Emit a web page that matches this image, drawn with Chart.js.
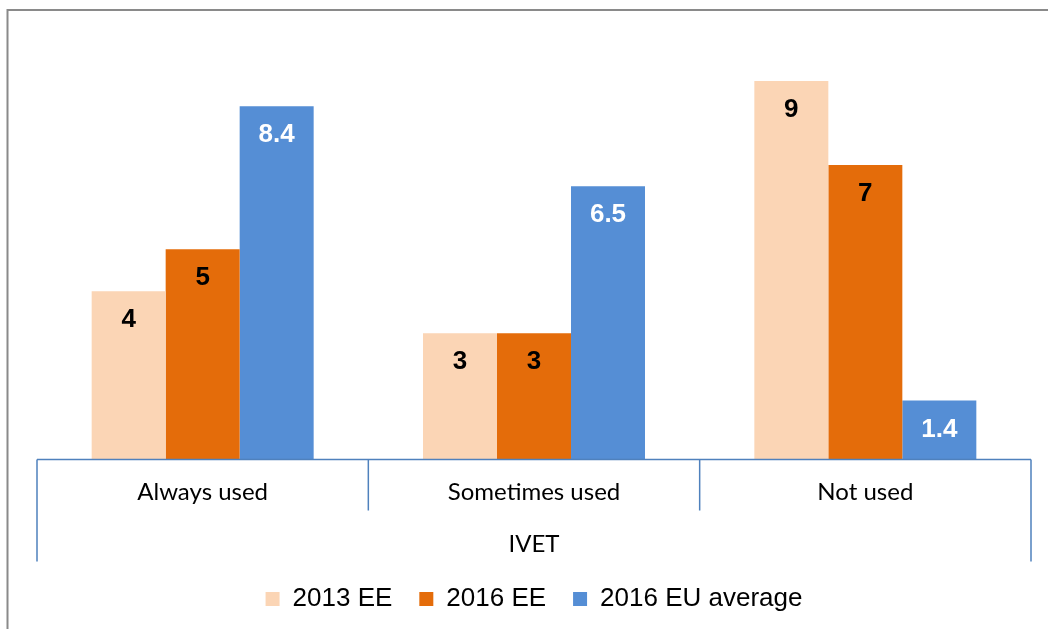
<!DOCTYPE html>
<html>
<head>
<meta charset="utf-8">
<script src="https://cdn.jsdelivr.net/npm/chart.js@4.4.1/dist/chart.umd.min.js"></script>
<style>
  html, body { margin: 0; padding: 0; background: #ffffff; }
  #wrap { width: 1048px; height: 629px; position: relative; }
</style>
</head>
<body>
<div id="wrap"><canvas id="c" width="1048" height="629"></canvas></div>
<script>
const categories = ['Always used', 'Sometimes used', 'Not used'];
const groupLabel = 'IVET';
const seriesNames = ['2013 EE', '2016 EE', '2016 EU average'];
const values2013EE = [4, 3, 9];
const values2016EE = [5, 3, 7];
const values2016EU = [8.4, 6.5, 1.4];
const seriesColors = ['#FBD5B5', '#E46C0A', '#558ED5'];
const labelColors = ['#000000', '#000000', '#FFFFFF'];

const frame = {
  id: 'frame',
  beforeDraw(chart) {
    const ctx = chart.ctx;
    ctx.save();
    ctx.fillStyle = '#ffffff';
    ctx.fillRect(0, 0, chart.width, chart.height);
    ctx.strokeStyle = '#8a8a8a';
    ctx.lineWidth = 2;
    ctx.beginPath();
    ctx.moveTo(7.5, chart.height);
    ctx.lineTo(7.5, 10);
    ctx.lineTo(chart.width, 10);
    ctx.stroke();
    ctx.restore();
  }
};

const axisDecor = {
  id: 'axisDecor',
  afterDatasetsDraw(chart) {
    const ctx = chart.ctx;
    const x = chart.scales.x;
    const base = chart.chartArea.bottom;
    const n = categories.length;
    const step = (x.right - x.left) / n;
    ctx.save();
    ctx.strokeStyle = '#4F81BD';
    ctx.lineWidth = 1.5;
    ctx.beginPath();
    ctx.moveTo(x.left, base);
    ctx.lineTo(x.right, base);
    for (let i = 0; i <= n; i++) {
      const px = x.left + i * step;
      const len = (i === 0 || i === n) ? 102 : 51;
      ctx.moveTo(px, base);
      ctx.lineTo(px, base + len);
    }
    ctx.stroke();
    ctx.restore();
  }
};

const valueLabels = {
  id: 'valueLabels',
  afterDatasetsDraw(chart) {
    const ctx = chart.ctx;
    ctx.save();
    ctx.font = 'bold 26px "Liberation Sans", Arial, sans-serif';
    ctx.textAlign = 'center';
    ctx.textBaseline = 'middle';
    chart.data.datasets.forEach((ds, di) => {
      const meta = chart.getDatasetMeta(di);
      meta.data.forEach((el, i) => {
        ctx.fillStyle = labelColors[di];
        ctx.fillText(String(ds.data[i]), el.x, el.y + 29);
      });
    });
    ctx.restore();
  }
};

const seriesData = [values2013EE, values2016EE, values2016EU];

new Chart(document.getElementById('c'), {
  type: 'bar',
  data: {
    labels: categories,
    datasets: seriesNames.map((name, i) => ({
      label: name,
      data: seriesData[i],
      backgroundColor: seriesColors[i],
      borderWidth: 0,
      categoryPercentage: 0.67,
      barPercentage: 1.0
    }))
  },
  options: {
    responsive: false,
    animation: false,
    devicePixelRatio: 1,
    layout: { padding: { left: 37, right: 17, top: 39, bottom: 7 } },
    plugins: {
      tooltip: { enabled: false },
      legend: {
        position: 'bottom',
        labels: {
          boxWidth: 14,
          boxHeight: 14,
          padding: 27,
          color: '#000000',
          font: { family: '"Liberation Sans", Arial, sans-serif', size: 26 }
        }
      }
    },
    scales: {
      y: {
        display: false,
        min: 0,
        max: 10
      },
      x: {
        grid: { display: false, drawTicks: false, tickLength: 0 },
        border: { display: false },
        ticks: {
          padding: 18,
          color: '#000000',
          font: { family: 'Lato, "Open Sans", sans-serif', size: 24 }
        },
        title: {
          display: true,
          text: groupLabel,
          color: '#000000',
          padding: { top: 6, bottom: 0 },
          font: { family: 'Lato, "Open Sans", sans-serif', size: 24 }
        }
      }
    }
  },
  plugins: [frame, axisDecor, valueLabels]
});
</script>
</body>
</html>
